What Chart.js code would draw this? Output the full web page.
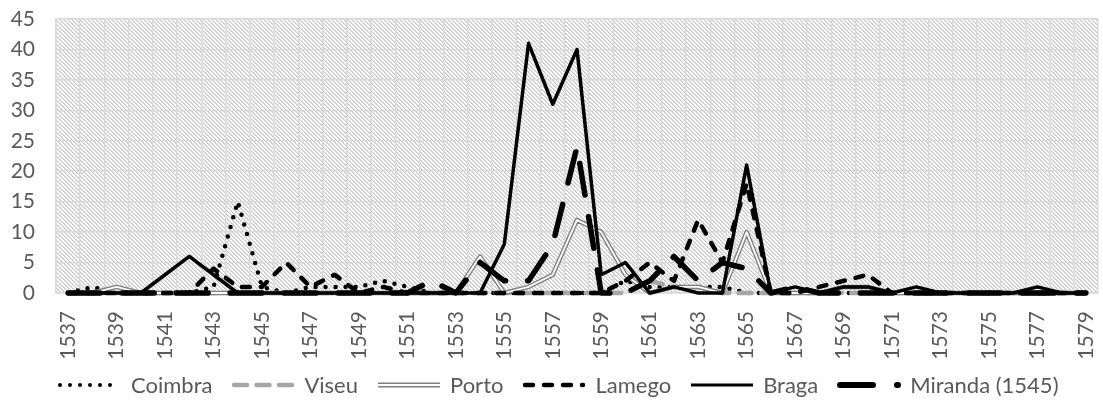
<!DOCTYPE html>
<html>
<head>
<meta charset="utf-8">
<script src="https://cdn.jsdelivr.net/npm/chart.js@4.4.1/dist/chart.umd.min.js"></script>
<style>
  html, body { margin: 0; padding: 0; background: #fff; }
  #wrap { position: relative; width: 1103px; height: 416px; overflow: hidden; }
  #chart { position: absolute; left: 0; top: 0; }
  #legend {
    position: absolute; left: 58px; top: 372px;
    display: flex; justify-content: flex-start; align-items: center;
    font-family: Lato, "Open Sans", sans-serif; font-size: 22px; color: #595959;
    line-height: 26px; white-space: nowrap;
  }
  .item { display: flex; align-items: center; margin-right: 19px; }
  .item svg { margin-right: 9px; display: block; }
</style>
</head>
<body>
<div id="wrap">
  <canvas id="chart" width="1103" height="416"></canvas>
  <div id="legend"></div>
</div>
<script>
// Years on the category axis
const years = [1537, 1538, 1539, 1540, 1541, 1542, 1543, 1544, 1545, 1546,
               1547, 1548, 1549, 1550, 1551, 1552, 1553, 1554, 1555, 1556,
               1557, 1558, 1559, 1560, 1561, 1562, 1563, 1564, 1565, 1566,
               1567, 1568, 1569, 1570, 1571, 1572, 1573, 1574, 1575, 1576,
               1577, 1578, 1579];

// Yearly counts per diocese
const coimbra = [0, 1, 0, 0, 0, 0, 1, 15, 1, 0,
                 1, 1, 1, 2, 1, 0, 0, 0, 0, 0,
                 0, 0, 0, 2, 1, 1, 1, 1, 0, 0,
                 0, 0, 0, 0, 0, 0, 0, 0, 0, 0,
                 0, 0, 0];
const viseu   = [0, 0, 0, 0, 0, 0, 0, 0, 0, 0,
                 0, 0, 0, 0, 0, 0, 0, 0, 0, 0,
                 0, 0, 0, 0, 2, 1, 1, 0, 0, 0,
                 0, 0, 0, 0, 0, 0, 0, 0, 0, 0,
                 0, 0, 0];
const porto   = [0, 0, 1, 0, 0, 0, 0, 0, 0, 0,
                 0, 0, 0, 0, 0, 0, 0, 6, 0, 1,
                 3, 12, 10, 3, 0, 1, 1, 0, 10, 0,
                 0, 0, 1, 1, 0, 0, 0, 0, 0, 0,
                 0, 0, 0];
const lamego  = [0, 0, 0, 0, 0, 0, 4, 1, 1, 5,
                 1, 3, 0, 1, 0, 0, 0, 0, 0, 0,
                 0, 0, 0, 2, 5, 2, 12, 5, 18, 0,
                 0, 1, 2, 3, 0, 0, 0, 0, 0, 0,
                 0, 0, 0];
const braga   = [0, 0, 0, 0, 3, 6, 3, 0, 0, 0,
                 0, 0, 0, 0, 0, 0, 0, 0, 8, 41,
                 31, 40, 3, 5, 0, 1, 0, 0, 21, 0,
                 1, 0, 1, 1, 0, 1, 0, 0, 0, 0,
                 1, 0, 0];
const miranda = [0, 0, 0, 0, 0, 0, 0, 0, 0, 0,
                 0, 0, 0, 0, 0, 2, 0, 5, 2, 2,
                 8, 24, 0, 0, 2, 6, 2, 5, 4, 0,
                 1, 0, 0, 0, 0, 0, 0, 0, 0, 0,
                 0, 0, 0];

// Value axis ticks
const yTicks = [0, 5, 10, 15, 20, 25, 30, 35, 40, 45];

const FONT = 'Lato, "Open Sans", sans-serif';
const TEXT = '#595959';
const GRID = '#D9D9D9';

// Light downward-diagonal hatch for the plot area
function makeHatch(ctx) {
  const c = document.createElement('canvas');
  c.width = 8; c.height = 8;
  const g = c.getContext('2d');
  g.fillStyle = '#ffffff';
  g.fillRect(0, 0, 8, 8);
  for (let i = 0; i < 8; i++) {
    g.fillStyle = '#dedede';
    g.fillRect((i + 1) % 8, i, 1, 1);
    g.fillRect((i + 5) % 8, i, 1, 1);
    g.fillStyle = '#c6c6c6';
    g.fillRect(i, i, 1, 1);
    g.fillRect((i + 4) % 8, i, 1, 1);
  }
  return ctx.createPattern(c, 'repeat');
}

const hatchPlugin = {
  id: 'hatch',
  beforeDraw(chart) {
    const { ctx, chartArea: a } = chart;
    if (!a) return;
    ctx.save();
    ctx.fillStyle = makeHatch(ctx);
    ctx.fillRect(a.left, a.top, a.right - a.left, a.bottom - a.top);
    ctx.restore();
  }
};

const common = {
  pointRadius: 0,
  pointHoverRadius: 0,
  tension: 0,
  fill: false,
  clip: 8,
  borderJoinStyle: 'round'
};

const datasets = [
  { ...common, label: 'Coimbra', data: coimbra, borderColor: '#000000', borderWidth: 4.5,
    borderDash: [0, 10], borderCapStyle: 'round', order: 6 },
  { ...common, label: 'Viseu', data: viseu, borderColor: '#a6a6a6', borderWidth: 4.5,
    borderDash: [13, 9.5], borderCapStyle: 'round', order: 5 },
  { ...common, label: 'Porto', data: porto, borderColor: '#7f7f7f', borderWidth: 4.5,
    borderCapStyle: 'butt', order: 4 },
  { ...common, label: 'Porto', data: porto, borderColor: '#ffffff', borderWidth: 1.8,
    borderCapStyle: 'butt', order: 3 },
  { ...common, label: 'Lamego', data: lamego, borderColor: '#000000', borderWidth: 4.5,
    borderDash: [8, 11], borderCapStyle: 'round', order: 2 },
  { ...common, label: 'Braga', data: braga, borderColor: '#000000', borderWidth: 3.5,
    borderCapStyle: 'round', order: 1 },
  { ...common, label: 'Miranda (1545)', data: miranda, borderColor: '#000000', borderWidth: 5.5,
    borderDash: [32, 22], borderCapStyle: 'round', order: 0 }
];

new Chart(document.getElementById('chart'), {
  type: 'line',
  data: { labels: years.map(String), datasets },
  plugins: [hatchPlugin],
  options: {
    responsive: false,
    animation: false,
    events: [],
    layout: { padding: { left: 0, top: 19, right: 5, bottom: 0 } },
    plugins: { legend: { display: false }, tooltip: { enabled: false } },
    scales: {
      x: {
        offset: true,
        grid: { offset: true, color: GRID, lineWidth: 1.5, drawTicks: false },
        border: { display: true, color: GRID, width: 1.5 },
        ticks: {
          autoSkip: false,
          minRotation: 90,
          maxRotation: 90,
          padding: 18,
          color: TEXT,
          font: { family: FONT, size: 21 },
          callback: (v, i) => (i % 2 === 0 ? String(years[i]) : '')
        },
        afterFit(scale) {
          scale.height = 123;
          scale.paddingLeft = 0;
          scale.paddingRight = 0;
        }
      },
      y: {
        min: 0,
        max: 45,
        afterBuildTicks(scale) { scale.ticks = yTicks.map(v => ({ value: v })); },
        grid: { color: GRID, lineWidth: 1.5, drawTicks: false },
        border: { display: true, color: GRID, width: 1.5 },
        ticks: {
          padding: 21,
          color: TEXT,
          font: { family: FONT, size: 21 }
        },
        afterFit(scale) {
          scale.width = 56;
          scale.paddingTop = 0;
          scale.paddingBottom = 0;
        }
      }
    }
  }
});

// Legend with line samples drawn in the series' styles
const legendItems = [
  { name: 'Coimbra', svg: '<line x1="2" y1="6" x2="62" y2="6" stroke="#000" stroke-width="4" stroke-linecap="round" stroke-dasharray="0 10"/>' },
  { name: 'Viseu', svg: '<line x1="3" y1="6" x2="61" y2="6" stroke="#a6a6a6" stroke-width="4.5" stroke-linecap="round" stroke-dasharray="13 9.5"/>' },
  { name: 'Porto', svg: '<line x1="1" y1="6" x2="63" y2="6" stroke="#7f7f7f" stroke-width="5"/><line x1="1" y1="6" x2="63" y2="6" stroke="#fff" stroke-width="2"/>' },
  { name: 'Lamego', svg: '<line x1="3" y1="6" x2="61" y2="6" stroke="#000" stroke-width="4.5" stroke-linecap="round" stroke-dasharray="8 11"/>' },
  { name: 'Braga', svg: '<line x1="1" y1="6" x2="63" y2="6" stroke="#000" stroke-width="3"/>' },
  { name: 'Miranda (1545)', svg: '<line x1="3" y1="6" x2="61" y2="6" stroke="#000" stroke-width="6" stroke-linecap="round" stroke-dasharray="33 24"/>' }
];
document.getElementById('legend').innerHTML = legendItems.map(it =>
  '<div class="item"><svg width="64" height="12" viewBox="0 0 64 12">' + it.svg +
  '</svg><span>' + it.name + '</span></div>').join('');
</script>
</body>
</html>
